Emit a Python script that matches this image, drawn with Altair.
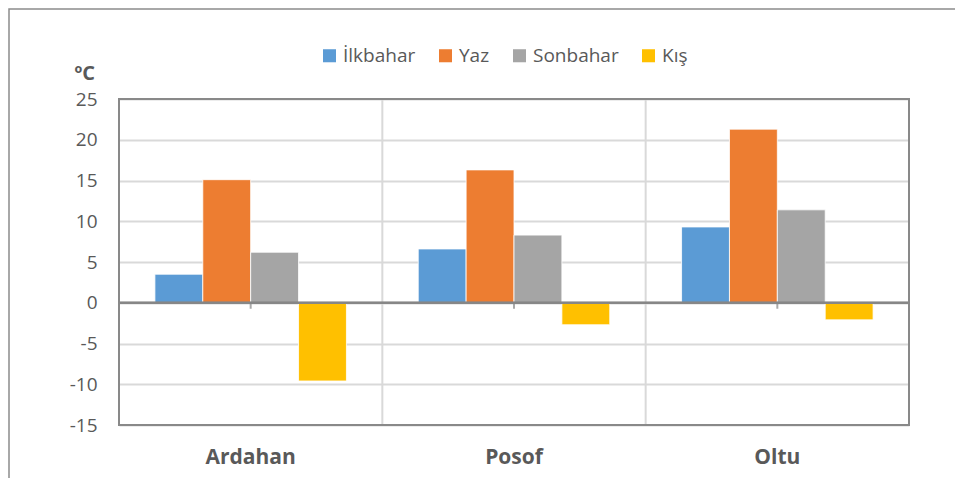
import altair as alt
import pandas as pd

stations = ["Ardahan", "Posof", "Oltu"]
seasons = ["İlkbahar", "Yaz", "Sonbahar", "Kış"]
ilkbahar = [3.5, 6.6, 9.3]
yaz = [15.1, 16.3, 21.3]
sonbahar = [6.2, 8.3, 11.4]
kis = [-9.6, -2.7, -2.1]
colors = ["#5B9BD5", "#ED7D31", "#A5A5A5", "#FFC000"]
y_ticks = [-15, -10, -5, 0, 5, 10, 15, 20, 25]

rows = []
for series_name, vals in zip(seasons, [ilkbahar, yaz, sonbahar, kis]):
    for st, v in zip(stations, vals):
        rows.append({"station": st, "season": series_name, "value": v})
df = pd.DataFrame(rows)
st_df = pd.DataFrame({"station": stations})
one = pd.DataFrame({"a": [0]})

W, H = 790, 326
FONT = "Open Sans"
TXT = "#595959"

xscale = alt.Scale(domain=stations, paddingInner=0, paddingOuter=0)
yscale = alt.Scale(domain=[-15, 25], nice=False, zero=False)

bars = alt.Chart(df).mark_bar(stroke="white", strokeWidth=0.8).encode(
    x=alt.X("station:N", sort=stations, scale=xscale, title=None,
            axis=alt.Axis(labelFont=FONT, labelFontSize=21, labelFontWeight="bold",
                          labelColor=TXT, labelPadding=21, ticks=False, domain=False,
                          grid=False, labelAngle=0, labelAlign="center",
                          labelBaseline="top")),
    xOffset=alt.XOffset("season:N", sort=seasons,
                        scale=alt.Scale(paddingOuter=0.75, paddingInner=0)),
    y=alt.Y("value:Q", scale=yscale, title="ºC",
            axis=alt.Axis(values=y_ticks, labelExpr="'' + datum.value",
                          labelFont=FONT, labelFontSize=19,
                          labelColor=TXT, labelPadding=22, ticks=False, domain=False,
                          gridColor="#D9D9D9", gridWidth=2,
                          titleAngle=0, titleX=-45, titleY=-20, titleAlign="left",
                          titleBaseline="alphabetic", titleFont=FONT, titleFontSize=20,
                          titleFontWeight="bold", titleColor=TXT)),
    color=alt.Color("season:N", sort=seasons,
                    scale=alt.Scale(domain=seasons, range=colors),
                    legend=alt.Legend(title=None, orient="none", legendX=201, legendY=-53,
                                      direction="horizontal", symbolType="square",
                                      symbolSize=170, symbolStrokeWidth=0,
                                      labelFont=FONT, labelFontSize=19, labelColor=TXT,
                                      columnPadding=20, labelOffset=4, labelLimit=300)),
)

seps = alt.Chart(st_df).mark_rule(color="#D9D9D9", strokeWidth=2).encode(
    x=alt.X("station:N", sort=stations, scale=xscale, bandPosition=0),
)

zero = alt.Chart(st_df).mark_rule(color="#868686", strokeWidth=2).encode(
    y=alt.Y(datum=0, scale=yscale),
)

ticks = alt.Chart(st_df).mark_tick(color="#868686", orient="vertical", size=6,
                                    thickness=2, yOffset=3).encode(
    x=alt.X("station:N", sort=stations, scale=xscale),
    y=alt.Y(datum=0, scale=yscale),
)

border = alt.Chart(one).mark_rect(
    fill="transparent", stroke="#898989", strokeWidth=2).encode(
    x=alt.value(0), x2=alt.value(W), y=alt.value(0), y2=alt.value(H),
)

frame = alt.Chart(one).mark_rect(
    fill="transparent", stroke="#8C8C8C", strokeWidth=1.5).encode(
    x=alt.value(-110), x2=alt.value(W + 200),
    y=alt.value(-90), y2=alt.value(H + 200),
)

chart = alt.layer(frame, seps, bars, zero, ticks, border).properties(
    width=W, height=H,
    autosize=alt.AutoSizeParams(type="none"),
    padding={"left": 111, "top": 91, "right": 46, "bottom": 53},
).configure_view(stroke="transparent").configure(background="white")

chart.save("out.html", embed_options={"renderer": "svg", "actions": False})
